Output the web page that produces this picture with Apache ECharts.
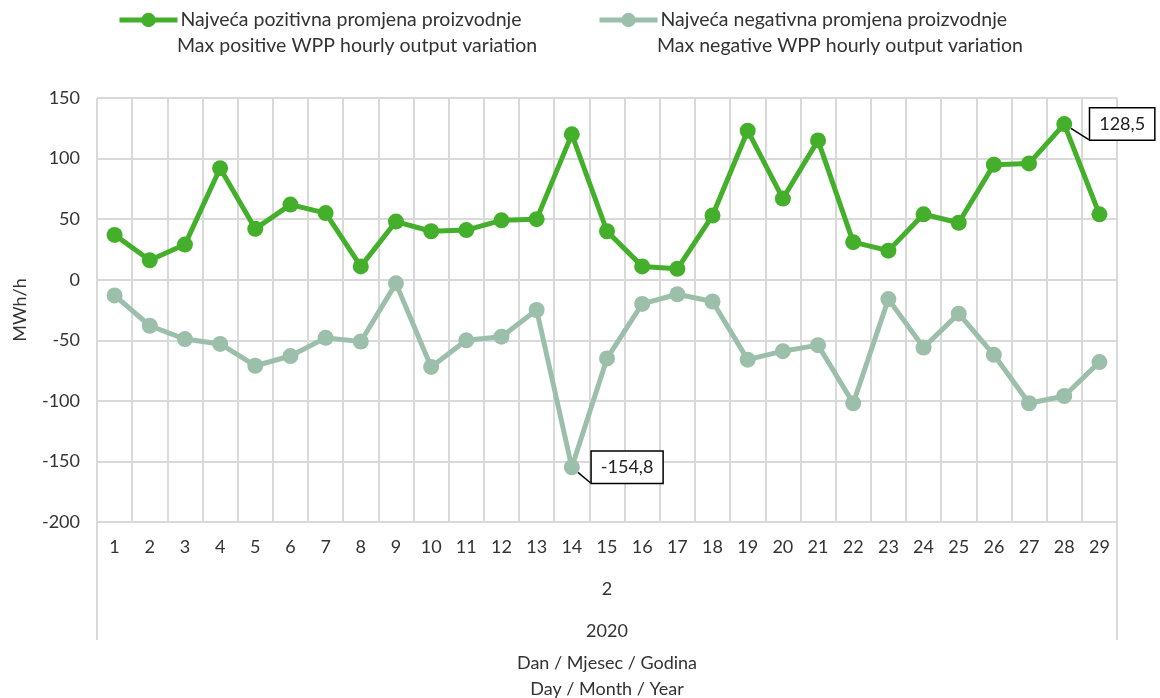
<!DOCTYPE html>
<html>
<head>
<meta charset="utf-8">
<script src="https://cdn.jsdelivr.net/npm/echarts@6/dist/echarts.min.js"></script>
<style>html,body{margin:0;padding:0;background:#fff}#c{width:1160px;height:698px}</style>
</head>
<body>
<div id="c"></div>
<script>
const days = ['1','2','3','4','5','6','7','8','9','10','11','12','13','14','15','16','17','18','19','20','21','22','23','24','25','26','27','28','29'];
const months = ['2'];
const years = ['2020'];
const positiveName = 'Najveća pozitivna promjena proizvodnje';
const positiveSub = 'Max positive WPP hourly output variation';
const negativeName = 'Najveća negativna promjena proizvodnje';
const negativeSub = 'Max negative WPP hourly output variation';
const positiveValues = [37,16,29,92,42,62,55,11,48,40,41,49,50,120,40,11,9,53,123,67,115,31,24,54,47,95,96,128.5,54];
const negativeValues = [-13,-38,-49,-53,-71,-63,-48,-51,-3,-72,-50,-47,-25,-154.8,-65,-20,-12,-18,-66,-59,-54,-102,-16,-56,-28,-62,-102,-96,-68];
const yTicks = {min:-200, max:150, interval:50};

const FONT = 'Lato';
const GREEN = '#44AF2B';
const GRAY = '#9CBFAB';
const GRID = '#D9D9D9';
const TXT = '#333333';

function fmt(v){ return String(v).replace('.', ','); }
function calloutData(values, idx, distance){
  return values.map((v,i)=> i===idx ? {
    value:v,
    label:{show:true, position:'right', distance:distance, formatter:p=>fmt(p.value),
      color:'#222', fontFamily:FONT, fontSize:18, backgroundColor:'#fff',
      borderColor:'#000', borderWidth:1.5, padding:[7,9,6,9]},
    labelLine:{show:true, lineStyle:{color:'#000', width:1.5}}
  } : v);
}
const maxIdx = positiveValues.indexOf(Math.max(...positiveValues));
const minIdx = negativeValues.indexOf(Math.min(...negativeValues));

const legendBase = {itemWidth:58, itemHeight:18, itemGap:0, padding:0, top:10,
  lineStyle:{width:5}, itemStyle:{},
  textStyle:{fontFamily:FONT, fontSize:19.5, color:TXT, padding:[0,0,0,-2]}};
const subStyle = {fontFamily:FONT, fontSize:19.5, fontWeight:'normal', color:TXT};

const chart = echarts.init(document.getElementById('c'));
chart.setOption({
  animation:false,
  textStyle:{fontFamily:FONT},
  grid:{left:97, right:43, top:98, bottom:176, outerBoundsMode:'none', containLabel:false},
  legend:[
    Object.assign({}, legendBase, {data:[positiveName], left:117}),
    Object.assign({}, legendBase, {data:[negativeName], left:597})
  ],
  title:[
    {text:positiveSub, left:177, top:36, textStyle:subStyle, padding:0},
    {text:negativeSub, left:657, top:36, textStyle:subStyle, padding:0}
  ],
  xAxis:[
    {type:'category', data:days, boundaryGap:true,
     axisLine:{show:true, lineStyle:{color:GRID, width:2}},
     axisTick:{show:false},
     axisLabel:{color:TXT, fontFamily:FONT, fontSize:18, margin:16, interval:0},
     splitLine:{show:true, lineStyle:{color:GRID, width:2}}},
    {type:'category', data:months, position:'bottom', boundaryGap:true,
     axisLine:{show:false},
     axisTick:{show:true, length:118, lineStyle:{color:GRID, width:2}},
     axisLabel:{color:TXT, fontFamily:FONT, fontSize:18, margin:58},
     splitLine:{show:false}},
    {type:'category', data:years, position:'bottom', boundaryGap:true,
     axisLine:{show:false}, axisTick:{show:false},
     axisLabel:{color:TXT, fontFamily:FONT, fontSize:18, margin:100},
     splitLine:{show:false},
     name:'Dan / Mjesec / Godina\nDay / Month / Year', nameLocation:'middle', nameGap:128,
     nameTextStyle:{color:TXT, fontFamily:FONT, fontSize:18, lineHeight:26}}
  ],
  yAxis:{type:'value', min:yTicks.min, max:yTicks.max, interval:yTicks.interval,
    axisLine:{show:false}, axisTick:{show:false},
    axisLabel:{color:TXT, fontFamily:FONT, fontSize:18, margin:17},
    splitLine:{lineStyle:{color:GRID, width:2}},
    name:'MWh/h', nameLocation:'middle', nameGap:68, nameRotate:90,
    nameTextStyle:{color:TXT, fontFamily:FONT, fontSize:18}},
  series:[
    {name:positiveName, type:'line', data:calloutData(positiveValues, maxIdx, 18),
     symbol:'circle', symbolSize:16, lineStyle:{color:GREEN, width:5}, itemStyle:{color:GREEN}, z:3},
    {name:negativeName, type:'line', data:calloutData(negativeValues, minIdx, 12),
     symbol:'circle', symbolSize:16, lineStyle:{color:GRAY, width:5}, itemStyle:{color:GRAY}, z:2}
  ]
});
</script>
</body>
</html>
